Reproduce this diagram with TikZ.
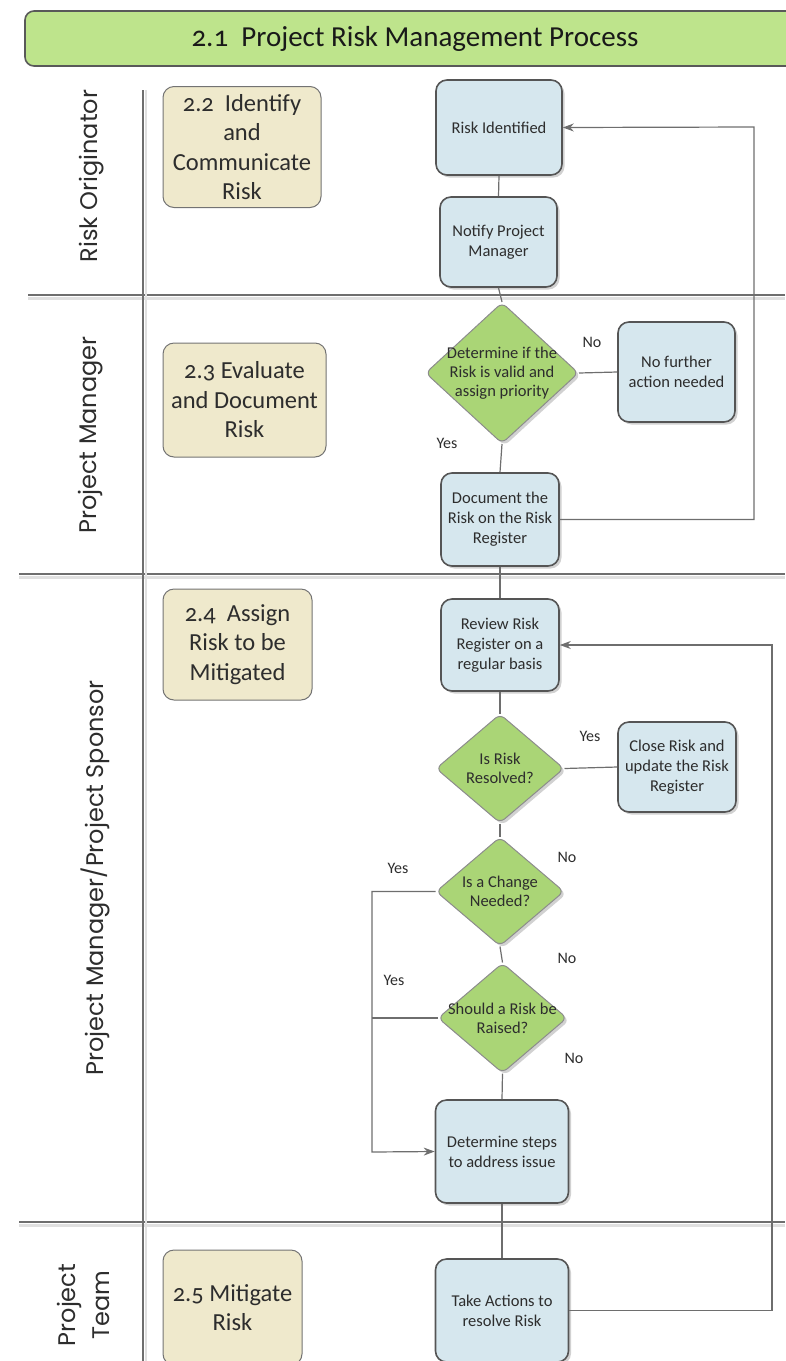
\documentclass[tikz,border=0pt]{standalone}
\usepackage{fontspec}
\setmainfont{Carlito}[Numbers=OldStyle]
\newfontfamily\lanefont{Poppins}
\usetikzlibrary{shapes.geometric,arrows.meta,shadows}

\definecolor{titlegreen}{RGB}{190,228,140}
\definecolor{decgreen}{RGB}{170,213,118}
\definecolor{taskblue}{RGB}{214,231,238}
\definecolor{stagetan}{RGB}{239,233,204}
\definecolor{edgegray}{RGB}{85,85,85}
\definecolor{linegray}{RGB}{110,110,110}
\definecolor{txtgray}{RGB}{45,45,45}

\begin{document}
\begin{tikzpicture}[x=1pt,y=-1pt,
  box shadow/.style={drop shadow={shadow xshift=2.5pt,shadow yshift=-2.5pt,fill=black,opacity=0.18}},
  task/.style={draw=edgegray,line width=1.6pt,fill=taskblue,rounded corners=11pt,
    align=center,text=txtgray,inner sep=0pt,font=\fontsize{16.5}{20}\selectfont,box shadow},
  decision/.style={diamond,draw=black!45,line width=1pt,fill=decgreen,rounded corners=6pt,
    align=center,text=txtgray,inner sep=-12pt,font=\fontsize{16.5}{19}\selectfont,box shadow},
  stage/.style={draw=black!55,line width=1pt,fill=stagetan,rounded corners=11pt,
    align=center,text=txtgray,inner sep=0pt,font=\fontsize{24.5}{29.5}\selectfont},
  lanename/.style={rotate=90,align=center,text=txtgray,font=\lanefont\fontsize{24}{34}\selectfont},
  answer/.style={text=txtgray,inner sep=0pt,font=\fontsize{16}{19}\selectfont},
  lane/.style={draw=linegray,line width=2.5pt,
    preaction={draw=black!12,line width=2.5pt,transform canvas={yshift=-3.5pt}}},
  swim/.style={draw=linegray,line width=2pt,
    preaction={draw=black!12,line width=2pt,transform canvas={xshift=3pt}}},
  flow/.style={draw=linegray,line width=1.2pt},
  arrow/.style={flow,-{Stealth[length=11pt,width=8pt]}}]

\useasboundingbox (0,0) rectangle (785,1361);

% title bar
\node[draw=black!65,line width=1.6pt,fill=titlegreen,rounded corners=9pt,
  minimum width=780pt,minimum height=55pt,inner sep=0pt,text=black!90,
  font=\fontsize{29}{35}\selectfont] (title) at (415,38.5) {2.1~~Project Risk Management Process};

% swim lanes
\draw[lane] (28,295) -- (785,295);
\draw[lane] (19,574) -- (785,574);
\draw[lane] (19,1222) -- (785,1222);
\draw[swim] (143,90) -- (143,1361);

\node[lanename] (lane1) at (92,176) {Risk Originator};
\node[lanename] (lane2) at (91,435) {Project Manager};
\node[lanename] (lane3) at (95,878) {Project Manager/Project Sponsor};
\node[lanename] (lane4) at (83,1305) {Project\\Team};

% stages
\node[stage,minimum width=158pt,minimum height=121pt] (s22) at (242,147) {2.2~~Identify\\and\\Communicate\\Risk};
\node[stage,minimum width=163pt,minimum height=114pt] (s23) at (244.5,400) {2.3 Evaluate\\and Document\\Risk};
\node[stage,minimum width=149pt,minimum height=111pt] (s24) at (237.5,644.5) {2.4~~Assign\\Risk to be\\Mitigated};
\node[stage,minimum width=139pt,minimum height=115pt] (s25) at (232.5,1307.5) {2.5~Mitigate\\Risk};

% steps
\node[task,minimum width=126pt,minimum height=95pt] (ri) at (499,127.5) {Risk Identified};
\node[task,minimum width=117pt,minimum height=90pt] (np) at (498.5,242) {Notify Project\\Manager};
\node[decision,minimum width=153pt,minimum height=141pt] (d1) at (502,373) {Determine if the\\Risk is valid and\\assign priority};
\node[task,minimum width=117pt,minimum height=100pt] (nf) at (676.5,372) {No further\\action needed};
\node[task,minimum width=118pt,minimum height=93pt] (doc) at (500,519.5) {Document the\\Risk on the Risk\\Register};
\node[task,minimum width=118pt,minimum height=92pt] (rv) at (500,645) {Review Risk\\Register on a\\regular basis};
\node[decision,minimum width=128pt,minimum height=109pt] (d2) at (500,768.5) {Is Risk\\Resolved?};
\node[task,minimum width=118pt,minimum height=90pt] (cl) at (677,767) {Close Risk and\\update the Risk\\Register};
\node[decision,minimum width=128pt,minimum height=109pt] (d3) at (500,891.5) {Is a Change\\Needed?};
\node[decision,minimum width=129pt,minimum height=110pt] (d4) at (502.5,1018) {Should a Risk be\\Raised?};
\node[task,minimum width=133pt,minimum height=103pt] (dt) at (502,1151.5) {Determine steps\\to address issue};
\node[task,minimum width=133pt,minimum height=103pt] (ta) at (502,1310.5) {Take Actions to\\resolve Risk};

\coordinate (back1) at (754,127);
\coordinate (back2) at (772,645);
\coordinate (yesjoin) at (372,1152);

% connectors
\draw[flow] (ri.south) -- (np.north);
\draw[flow] (np.south) -- (d1.north);
\draw[flow] (d1.east) -- (nf.west);
\draw[flow] (d1.south) -- (doc.north);
\draw[arrow] (doc.east) -| (back1) -- (ri.east);
\draw[flow] (doc.south) -- (rv.north);
\draw[flow] (rv.south) -- (d2.north);
\draw[flow] (d2.east) -- (cl.west);
\draw[flow] (d2.south) -- (d3.north);
\draw[flow] (d3.south) -- (d4.north);
\draw[arrow] (d3.west) -| (yesjoin) -- (dt.west);
\draw[flow] (d4.west) -- (d4.west -| yesjoin);
\draw[flow] (d4.south) -- (dt.north);
\draw[flow] (dt.south) -- (ta.north);
\draw[arrow] (ta.east) -| (back2) -- (rv.east);

\node[answer] (no1) at (592,342) {No};
\node[answer] (yes1) at (447,443) {Yes};
\node[answer] (yes2) at (590,736) {Yes};
\node[answer] (no2) at (567,857) {No};
\node[answer] (yes3) at (398,868) {Yes};
\node[answer] (no3) at (567,958) {No};
\node[answer] (yes4) at (394,980) {Yes};
\node[answer] (no4) at (574,1058) {No};

\end{tikzpicture}
\end{document}
